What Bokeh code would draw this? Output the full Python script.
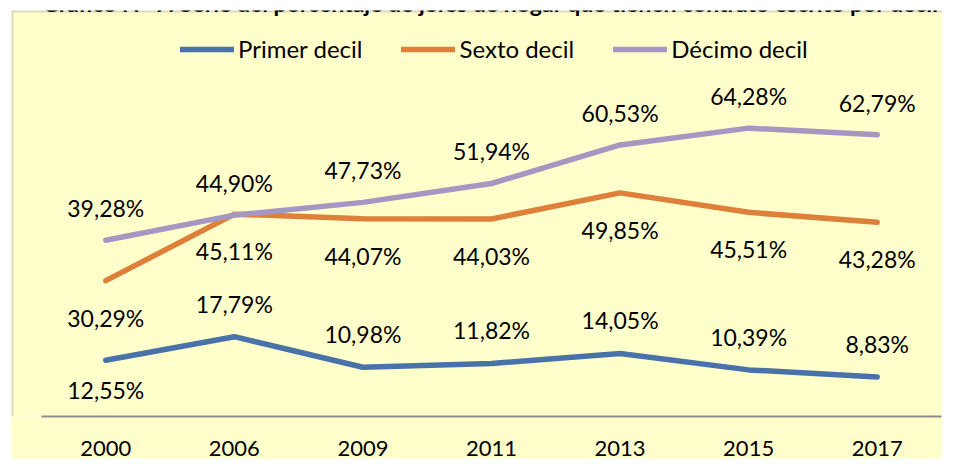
from bokeh.plotting import figure
from bokeh.models import (ColumnDataSource, Range1d, LabelSet, Legend, LegendItem,
                          Label, FixedTicker, BoxAnnotation)
from bokeh.core.properties import value
from bokeh.embed import file_html
from bokeh.resources import INLINE

years = ["2000", "2006", "2009", "2011", "2013", "2015", "2017"]
primer = [12.55, 17.79, 10.98, 11.82, 14.05, 10.39, 8.83]
sexto = [30.29, 45.11, 44.07, 44.03, 49.85, 45.51, 43.28]
decimo = [39.28, 44.90, 47.73, 51.94, 60.53, 64.28, 62.79]
names = ["Primer decil", "Sexto decil", "Décimo decil"]
title_text = "Gráfico N° 7: Serie del porcentaje de jefes de hogar que tienen contrato escrito por decil"

# label placement (style): 1 = above, -1 = below
primer_pos = [-1, 1, 1, 1, 1, 1, 1]
sexto_pos = [-1] * 7
decimo_pos = [1] * 7

colors = ["#4A72AA", "#DE7F3A", "#A498C2"]
YELLOW = "#FFFFCC"
GRAY = "#8C8C8C"
FONT = "Lato"

xi = list(range(len(years)))
W, H = 942, 460
left, top, bottom = 11, 10, 44
frame_w = W - left
band = 900 / len(years)
x0 = -0.5 - 30 / band
x1 = x0 + frame_w / band
px_per_unit = 4.486
y1 = (H - top - bottom) / px_per_unit

p = figure(width=W, height=H, x_range=Range1d(x0, x1), y_range=Range1d(0, y1),
           output_backend="svg", toolbar_location=None, y_axis_location=None,
           min_border_left=left, min_border_right=0, min_border_top=top,
           min_border_bottom=bottom)
p.background_fill_color = YELLOW
p.border_fill_color = "white"
p.outline_line_color = None
p.grid.visible = False

ax = p.xaxis[0]
ax.ticker = FixedTicker(ticks=xi)
ax.major_label_overrides = {i: y for i, y in zip(xi, years)}
ax.bounds = (-0.5, len(years) - 0.5)
ax.axis_line_color = GRAY
ax.axis_line_width = 2
ax.major_tick_line_color = None
ax.minor_tick_line_color = None
ax.major_label_text_font = FONT
ax.major_label_text_font_size = "22px"
ax.major_label_text_color = "black"
ax.major_label_standoff = 18
ax.background_fill_color = YELLOW

# chart-area border (left and top edges; the rest is clipped away)
p.add_layout(BoxAnnotation(left=left, top=top, right=5000, bottom=5000,
                           left_units="canvas", right_units="canvas",
                           top_units="canvas", bottom_units="canvas",
                           fill_alpha=0, line_color=GRAY, line_width=4))

title = Label(x=490, y=2, x_units="canvas", y_units="canvas", text=title_text,
              text_align="center", text_baseline="alphabetic",
              text_font=FONT, text_font_size="23px", text_font_style="bold",
              text_color="black")
p.add_layout(title)

items = []
up = {0: 33, 1: 37, 2: 32}
down = {0: 30, 1: 37, 2: 37}
for i, (vals, pos) in enumerate([(primer, primer_pos), (sexto, sexto_pos), (decimo, decimo_pos)]):
    src = ColumnDataSource(dict(
        x=xi, y=vals,
        txt=[f"{v:.2f}".replace(".", ",") + "%" for v in vals],
        off=[(up[i] if s > 0 else -down[i]) for s in pos],
    ))
    r = p.line("x", "y", source=src, line_color=colors[i], line_width=5.5,
               line_cap="round", line_join="round")
    items.append(LegendItem(label=names[i], renderers=[r]))
    ls = LabelSet(x="x", y="y", text="txt", source=src, y_offset="off",
                  text_align="center", text_baseline="middle",
                  text_font=value(FONT), text_font_size="23px", text_color="black")
    p.add_layout(ls)

legend = Legend(items=items, orientation="horizontal", location=(169, 353),
                label_text_font=FONT, label_text_font_size="24px",
                label_text_color="black", glyph_width=54, glyph_height=24,
                label_height=24, label_standoff=4, spacing=39, padding=0,
                margin=0, border_line_color=None, background_fill_alpha=0)
p.add_layout(legend, "center")

open("out.html", "w").write(file_html(p, INLINE))
